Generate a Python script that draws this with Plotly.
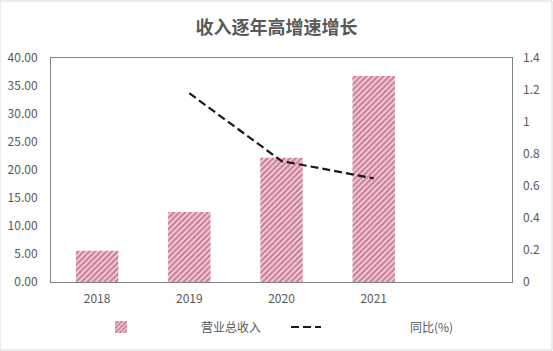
import plotly.graph_objects as go

years = ["2018", "2019", "2020", "2021"]
revenue = [5.6, 12.5, 22.2, 36.8]
yoy_years = ["2019", "2020", "2021"]
yoy = [1.18, 0.756, 0.648]

y_ticks = [0, 5, 10, 15, 20, 25, 30, 35, 40]
y2_ticks = [0, 0.2, 0.4, 0.6, 0.8, 1.0, 1.2, 1.4]

xpos = {y: i for i, y in enumerate(years)}

FONT = "Noto Sans CJK SC, Microsoft YaHei, sans-serif"
GRAY = "#595959"

fig = go.Figure()
fig.add_trace(go.Bar(
    x=[xpos[y] for y in years], y=revenue, name="\u2003\u2003\u2003\u2003\u2003营业总收入",
    width=0.46,
    marker=dict(color="#F7D3DE", line=dict(width=0),
                pattern=dict(shape="/", fgcolor="#9C2A50", bgcolor="#F8D6E1",
                             size=4, solidity=0.6)),
    yaxis="y",
))
fig.add_trace(go.Scatter(
    x=[xpos[y] for y in yoy_years], y=yoy, name="\u2003\u2003\u2003\u2003\u2003\u2003\u2003同比(%)",
    mode="lines", line=dict(color="#1a1a1a", width=2.2, dash="8px,4px"),
    yaxis="y2",
))

fig.update_layout(
    width=553, height=351,
    margin=dict(l=51, r=41, t=58, b=69, autoexpand=False),
    paper_bgcolor="white", plot_bgcolor="white",
    font=dict(family=FONT, size=12, color=GRAY),
    title=dict(text="<b>收入逐年高增速增长</b>", x=0.5, xanchor="center",
               y=1 - 28 / 351, yanchor="middle",
               font=dict(size=18, color=GRAY, family=FONT)),
    xaxis=dict(range=[-0.5, 4.5], tickvals=list(range(len(years))), ticktext=years,
               showgrid=False, zeroline=False, showline=True, linecolor="#808080",
               linewidth=1, mirror=True, ticks="", ticklabelstandoff=6,
               tickfont=dict(size=12, color=GRAY)),
    yaxis=dict(range=[0, 40], tickvals=y_ticks, ticktext=[f"{v:.2f}" for v in y_ticks],
               showgrid=False, zeroline=False, showline=True, linecolor="#808080",
               linewidth=1, mirror=True, ticks="", ticklabelstandoff=10,
               tickfont=dict(size=12, color=GRAY)),
    yaxis2=dict(range=[0, 1.4], tickvals=y2_ticks,
                ticktext=[("%g" % v) for v in y2_ticks],
                overlaying="y", side="right", showgrid=False, zeroline=False,
                showline=False, ticks="", ticklabelstandoff=10,
                tickfont=dict(size=12, color=GRAY)),
    legend=dict(orientation="h", x=(101 - 51) / 461, xanchor="left",
                yref="container", y=(351 - 327) / 351, yanchor="middle",
                entrywidth=140, entrywidthmode="pixels", itemwidth=30,
                font=dict(size=12, color=GRAY, family=FONT), bgcolor="rgba(0,0,0,0)"),
    showlegend=True,
    shapes=[dict(type="rect", xref="paper", yref="paper", x0=-51 / 461, x1=1 + 40 / 461,
                 y0=-68 / 224, y1=1 + 57 / 224, line=dict(color="#D9D9D9", width=1),
                 fillcolor="rgba(0,0,0,0)", layer="below")],
)

fig.write_html("out.html")
